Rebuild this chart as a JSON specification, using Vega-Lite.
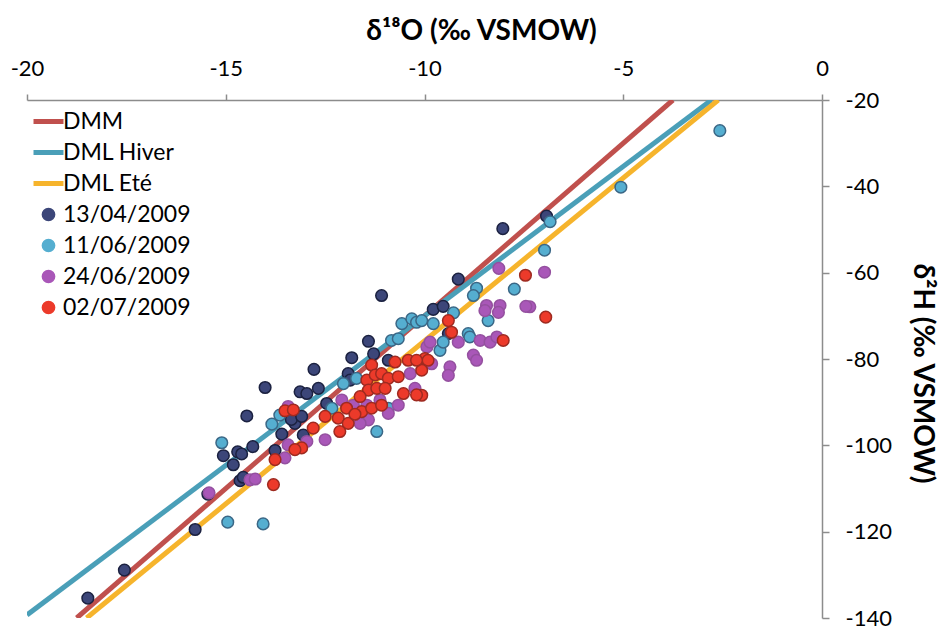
{
  "$schema": "https://vega.github.io/schema/vega-lite/v6.json",
  "autosize": {"type": "none"},
  "width": 795,
  "height": 518,
  "padding": {"left": 27, "top": 100, "right": 122, "bottom": 13},
  "background": "white",
  "config": {"view": {"stroke": null}, "font": "Lato"},
  "datasets": {
    "lines": [
      {"series": "DMM", "o18": -18.75, "h2": -140},
      {"series": "DMM", "o18": -3.75, "h2": -20},
      {"series": "DML Hiver", "o18": -20, "h2": -139.3},
      {"series": "DML Hiver", "o18": -2.78, "h2": -20},
      {"series": "DML Eté", "o18": -18.5, "h2": -140},
      {"series": "DML Eté", "o18": -2.61, "h2": -20}
    ],
    "points": [
      {"series": "13/04/2009", "o18": -18.47, "h2": -135.4},
      {"series": "13/04/2009", "o18": -17.55, "h2": -128.9},
      {"series": "13/04/2009", "o18": -15.77, "h2": -119.5},
      {"series": "13/04/2009", "o18": -15.45, "h2": -111.3},
      {"series": "13/04/2009", "o18": -14.64, "h2": -108.2},
      {"series": "13/04/2009", "o18": -14.56, "h2": -107.4},
      {"series": "13/04/2009", "o18": -15.06, "h2": -102.4},
      {"series": "13/04/2009", "o18": -14.7, "h2": -101.5},
      {"series": "13/04/2009", "o18": -14.6, "h2": -102.0},
      {"series": "13/04/2009", "o18": -14.32, "h2": -100.3},
      {"series": "13/04/2009", "o18": -14.81, "h2": -104.5},
      {"series": "13/04/2009", "o18": -13.76, "h2": -101.2},
      {"series": "13/04/2009", "o18": -14.01, "h2": -86.6},
      {"series": "13/04/2009", "o18": -14.47, "h2": -93.2},
      {"series": "13/04/2009", "o18": -13.59, "h2": -97.4},
      {"series": "13/04/2009", "o18": -13.26, "h2": -94.9},
      {"series": "13/04/2009", "o18": -13.35, "h2": -94.0},
      {"series": "13/04/2009", "o18": -13.13, "h2": -87.6},
      {"series": "13/04/2009", "o18": -11.41, "h2": -75.9},
      {"series": "13/04/2009", "o18": -11.28, "h2": -78.8},
      {"series": "13/04/2009", "o18": -11.83, "h2": -79.7},
      {"series": "13/04/2009", "o18": -12.78, "h2": -82.4},
      {"series": "13/04/2009", "o18": -10.91, "h2": -80.3},
      {"series": "13/04/2009", "o18": -11.92, "h2": -83.4},
      {"series": "13/04/2009", "o18": -11.87, "h2": -84.9},
      {"series": "13/04/2009", "o18": -12.67, "h2": -86.8},
      {"series": "13/04/2009", "o18": -12.96, "h2": -88.0},
      {"series": "13/04/2009", "o18": -12.46, "h2": -90.3},
      {"series": "13/04/2009", "o18": -13.09, "h2": -93.3},
      {"series": "13/04/2009", "o18": -13.05, "h2": -97.6},
      {"series": "13/04/2009", "o18": -11.08, "h2": -65.3},
      {"series": "13/04/2009", "o18": -8.03, "h2": -49.8},
      {"series": "13/04/2009", "o18": -9.15, "h2": -61.5},
      {"series": "13/04/2009", "o18": -6.93, "h2": -46.9},
      {"series": "13/04/2009", "o18": -9.78, "h2": -68.5},
      {"series": "13/04/2009", "o18": -9.53, "h2": -67.8},
      {"series": "13/04/2009", "o18": -9.4, "h2": -74.1},
      {"series": "11/06/2009", "o18": -2.57, "h2": -27.1},
      {"series": "11/06/2009", "o18": -5.06, "h2": -40.2},
      {"series": "11/06/2009", "o18": -6.84, "h2": -48.2},
      {"series": "11/06/2009", "o18": -6.98, "h2": -54.8},
      {"series": "11/06/2009", "o18": -7.74, "h2": -63.8},
      {"series": "11/06/2009", "o18": -8.69, "h2": -63.6},
      {"series": "11/06/2009", "o18": -8.77, "h2": -65.3},
      {"series": "11/06/2009", "o18": -10.57, "h2": -71.8},
      {"series": "11/06/2009", "o18": -10.32, "h2": -70.7},
      {"series": "11/06/2009", "o18": -10.2, "h2": -71.5},
      {"series": "11/06/2009", "o18": -10.83, "h2": -75.7},
      {"series": "11/06/2009", "o18": -10.66, "h2": -75.3},
      {"series": "11/06/2009", "o18": -11.71, "h2": -84.5},
      {"series": "11/06/2009", "o18": -12.04, "h2": -85.7},
      {"series": "11/06/2009", "o18": -12.33, "h2": -91.4},
      {"series": "11/06/2009", "o18": -10.91, "h2": -91.4},
      {"series": "11/06/2009", "o18": -11.2, "h2": -96.8},
      {"series": "11/06/2009", "o18": -15.1, "h2": -99.4},
      {"series": "11/06/2009", "o18": -13.84, "h2": -95.1},
      {"series": "11/06/2009", "o18": -13.64, "h2": -93.0},
      {"series": "11/06/2009", "o18": -14.95, "h2": -117.8},
      {"series": "11/06/2009", "o18": -14.06, "h2": -118.2},
      {"series": "11/06/2009", "o18": -10.07, "h2": -71.1},
      {"series": "11/06/2009", "o18": -9.78, "h2": -71.8},
      {"series": "11/06/2009", "o18": -9.27, "h2": -69.3},
      {"series": "11/06/2009", "o18": -8.4, "h2": -71.1},
      {"series": "11/06/2009", "o18": -8.9, "h2": -74.1},
      {"series": "11/06/2009", "o18": -8.86, "h2": -74.9},
      {"series": "11/06/2009", "o18": -9.61, "h2": -78.0},
      {"series": "11/06/2009", "o18": -9.53, "h2": -76.1},
      {"series": "24/06/2009", "o18": -6.98, "h2": -59.9},
      {"series": "24/06/2009", "o18": -7.35, "h2": -67.9},
      {"series": "24/06/2009", "o18": -8.13, "h2": -59.0},
      {"series": "24/06/2009", "o18": -8.44, "h2": -67.6},
      {"series": "24/06/2009", "o18": -8.1, "h2": -67.6},
      {"series": "24/06/2009", "o18": -7.45, "h2": -67.8},
      {"series": "24/06/2009", "o18": -8.48, "h2": -68.8},
      {"series": "24/06/2009", "o18": -8.14, "h2": -69.2},
      {"series": "24/06/2009", "o18": -8.6, "h2": -75.7},
      {"series": "24/06/2009", "o18": -8.35, "h2": -76.1},
      {"series": "24/06/2009", "o18": -8.18, "h2": -74.9},
      {"series": "24/06/2009", "o18": -9.15, "h2": -76.1},
      {"series": "24/06/2009", "o18": -8.77, "h2": -79.1},
      {"series": "24/06/2009", "o18": -8.69, "h2": -80.3},
      {"series": "24/06/2009", "o18": -9.36, "h2": -81.8},
      {"series": "24/06/2009", "o18": -9.4, "h2": -83.8},
      {"series": "24/06/2009", "o18": -9.94, "h2": -77.2},
      {"series": "24/06/2009", "o18": -9.86, "h2": -76.1},
      {"series": "24/06/2009", "o18": -9.82, "h2": -81.1},
      {"series": "24/06/2009", "o18": -15.42, "h2": -111.0},
      {"series": "24/06/2009", "o18": -14.39, "h2": -108.0},
      {"series": "24/06/2009", "o18": -14.26, "h2": -107.8},
      {"series": "24/06/2009", "o18": -13.43, "h2": -91.0},
      {"series": "24/06/2009", "o18": -13.43, "h2": -99.9},
      {"series": "24/06/2009", "o18": -13.51, "h2": -102.9},
      {"series": "24/06/2009", "o18": -12.08, "h2": -89.5},
      {"series": "24/06/2009", "o18": -11.79, "h2": -90.7},
      {"series": "24/06/2009", "o18": -11.45, "h2": -90.7},
      {"series": "24/06/2009", "o18": -11.12, "h2": -89.5},
      {"series": "24/06/2009", "o18": -10.91, "h2": -92.6},
      {"series": "24/06/2009", "o18": -10.66, "h2": -90.7},
      {"series": "24/06/2009", "o18": -11.41, "h2": -94.1},
      {"series": "24/06/2009", "o18": -11.62, "h2": -94.9},
      {"series": "24/06/2009", "o18": -12.96, "h2": -99.1},
      {"series": "24/06/2009", "o18": -12.5, "h2": -98.7},
      {"series": "24/06/2009", "o18": -10.36, "h2": -83.4},
      {"series": "24/06/2009", "o18": -10.24, "h2": -86.8},
      {"series": "02/07/2009", "o18": -6.95, "h2": -70.3},
      {"series": "02/07/2009", "o18": -7.46, "h2": -60.6},
      {"series": "02/07/2009", "o18": -9.4, "h2": -71.1},
      {"series": "02/07/2009", "o18": -9.32, "h2": -73.8},
      {"series": "02/07/2009", "o18": -8.02, "h2": -75.7},
      {"series": "02/07/2009", "o18": -9.99, "h2": -79.9},
      {"series": "02/07/2009", "o18": -9.91, "h2": -80.3},
      {"series": "02/07/2009", "o18": -10.07, "h2": -82.6},
      {"series": "02/07/2009", "o18": -10.07, "h2": -88.4},
      {"series": "02/07/2009", "o18": -10.74, "h2": -80.7},
      {"series": "02/07/2009", "o18": -10.41, "h2": -80.3},
      {"series": "02/07/2009", "o18": -10.2, "h2": -80.3},
      {"series": "02/07/2009", "o18": -11.33, "h2": -81.4},
      {"series": "02/07/2009", "o18": -11.45, "h2": -84.9},
      {"series": "02/07/2009", "o18": -11.24, "h2": -83.7},
      {"series": "02/07/2009", "o18": -11.08, "h2": -83.4},
      {"series": "02/07/2009", "o18": -10.91, "h2": -84.5},
      {"series": "02/07/2009", "o18": -10.66, "h2": -84.1},
      {"series": "02/07/2009", "o18": -11.41, "h2": -87.2},
      {"series": "02/07/2009", "o18": -11.2, "h2": -86.8},
      {"series": "02/07/2009", "o18": -10.99, "h2": -86.8},
      {"series": "02/07/2009", "o18": -10.53, "h2": -88.0},
      {"series": "02/07/2009", "o18": -10.2, "h2": -88.3},
      {"series": "02/07/2009", "o18": -11.62, "h2": -88.7},
      {"series": "02/07/2009", "o18": -11.96, "h2": -91.4},
      {"series": "02/07/2009", "o18": -11.58, "h2": -92.2},
      {"series": "02/07/2009", "o18": -11.33, "h2": -91.4},
      {"series": "02/07/2009", "o18": -11.08, "h2": -90.7},
      {"series": "02/07/2009", "o18": -12.5, "h2": -93.3},
      {"series": "02/07/2009", "o18": -12.8, "h2": -96.0},
      {"series": "02/07/2009", "o18": -12.17, "h2": -93.7},
      {"series": "02/07/2009", "o18": -11.92, "h2": -94.9},
      {"series": "02/07/2009", "o18": -11.75, "h2": -92.8},
      {"series": "02/07/2009", "o18": -12.13, "h2": -96.8},
      {"series": "02/07/2009", "o18": -13.09, "h2": -100.6},
      {"series": "02/07/2009", "o18": -13.51, "h2": -92.0},
      {"series": "02/07/2009", "o18": -13.3, "h2": -91.8},
      {"series": "02/07/2009", "o18": -13.76, "h2": -103.3},
      {"series": "02/07/2009", "o18": -13.26, "h2": -101.0},
      {"series": "02/07/2009", "o18": -13.8, "h2": -109.1}
    ]
  },
  "encoding": {
    "x": {
      "field": "o18", "type": "quantitative",
      "scale": {"domain": [-20, 0], "nice": false, "zero": false},
      "axis": {
        "orient": "top", "values": [-20, -15, -10, -5, 0],
        "labelExpr": "'' + datum.value",
        "title": "δ¹⁸O (‰ VSMOW)", "titleFont": "Lato", "titleFontSize": 28, "titleFontWeight": "bold", "titleColor": "#000",
        "titlePadding": 12, "titleX": 454, "titleAnchor": "middle",
        "labelFont": "Lato", "labelFontSize": 22, "labelColor": "#000", "labelPadding": 14, "labelFlush": false,
        "tickSize": 6, "tickColor": "#8c8c8c", "domainColor": "#8c8c8c", "domainWidth": 1.5, "tickWidth": 1.5, "grid": false
      }
    },
    "y": {
      "field": "h2", "type": "quantitative",
      "scale": {"domain": [-140, -20], "nice": false, "zero": false},
      "axis": {
        "orient": "right", "values": [-20, -40, -60, -80, -100, -120, -140],
        "labelExpr": "'' + datum.value",
        "title": "δ²H (‰ VSMOW)", "titleFont": "Lato", "titleFontSize": 28, "titleFontWeight": "bold", "titleColor": "#000",
        "titleAngle": 90, "titlePadding": 16, "titleY": 273,
        "labelFont": "Lato", "labelFontSize": 22, "labelColor": "#000", "labelPadding": 16, "labelAlign": "left", "labelFlush": false,
        "tickSize": 7, "tickColor": "#8c8c8c", "domainColor": "#8c8c8c", "domainWidth": 1.5, "tickWidth": 1.5, "grid": false
      }
    }
  },
  "layer": [
    {
      "data": {"name": "lines"},
      "mark": {"type": "line", "strokeWidth": 5, "clip": true},
      "encoding": {
        "color": {
          "field": "series", "type": "nominal",
          "scale": {
            "domain": ["DMM", "DML Hiver", "DML Eté", "13/04/2009", "11/06/2009", "24/06/2009", "02/07/2009"],
            "range": ["#C0504D", "#4A9FB8", "#F6B42C", "#3C4679", "#55AED0", "#A957B8", "#EC3A2A"]
          },
          "legend": {
            "title": null, "orient": "top-left", "offset": 10, "padding": 0,
            "symbolSize": 900, "rowPadding": 7, "labelOffset": 3,
            "labelFont": "Lato", "labelFontSize": 23, "labelColor": "#000", "labelLimit": 300,
            "encode": {
              "symbols": {
                "update": {
                  "shape": {"signal": "indexof(['DMM','DML Hiver','DML Eté'], datum.value) >= 0 ? 'stroke' : 'circle'"},
                  "size": {"signal": "indexof(['DMM','DML Hiver','DML Eté'], datum.value) >= 0 ? 900 : 150"},
                  "fill": {"signal": "indexof(['DMM','DML Hiver','DML Eté'], datum.value) >= 0 ? 'transparent' : scale('color', datum.value)"},
                  "stroke": {"signal": "indexof(['DMM','DML Hiver','DML Eté'], datum.value) >= 0 ? scale('color', datum.value) : scale('stroke', datum.value)"},
                  "strokeWidth": {"signal": "indexof(['DMM','DML Hiver','DML Eté'], datum.value) >= 0 ? 5 : 1.5"},
                  "opacity": {"value": 1}
                }
              }
            }
          }
        }
      }
    },
    {
      "data": {"name": "points"},
      "mark": {"type": "point", "filled": true, "size": 135, "strokeWidth": 1.5, "opacity": 1, "clip": true},
      "encoding": {
        "color": {"field": "series", "type": "nominal"},
        "stroke": {
          "field": "series", "type": "nominal",
          "scale": {
            "domain": ["13/04/2009", "11/06/2009", "24/06/2009", "02/07/2009"],
            "range": ["#1B2140", "#3A6786", "#94509F", "#9E2A20"]
          },
          "legend": null
        }
      }
    }
  ]
}
